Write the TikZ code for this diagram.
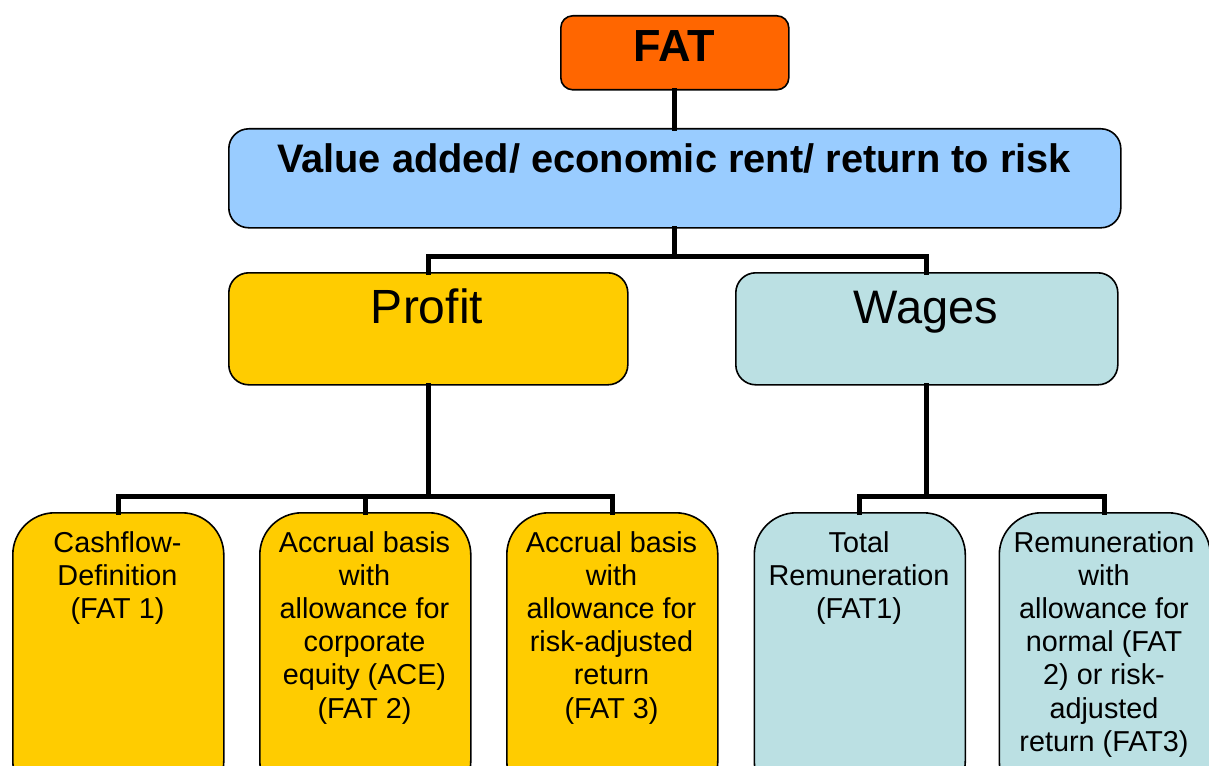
\documentclass[tikz,border=0pt]{standalone}
\usepackage{fontspec}
\setmainfont{Liberation Sans}
\definecolor{fatorange}{HTML}{FF6600}
\definecolor{valblue}{HTML}{99CCFF}
\definecolor{profgold}{HTML}{FFCC00}
\definecolor{wageteal}{HTML}{BBE0E3}
\begin{document}
\begin{tikzpicture}[x=1pt,y=-1pt,
  boxbase/.style={draw=black, line width=1.6pt, inner sep=0pt, anchor=north west},
  fatbox/.style={boxbase, fill=fatorange, rounded corners=12pt},
  valbox/.style={boxbase, fill=valblue, rounded corners=20pt},
  profbox/.style={boxbase, fill=profgold, rounded corners=20pt},
  wagebox/.style={boxbase, fill=wageteal, rounded corners=20pt},
  botprof/.style={boxbase, fill=profgold, rounded corners=42pt, minimum width=211pt, minimum height=290pt},
  botwage/.style={boxbase, fill=wageteal, rounded corners=42pt, minimum width=211pt, minimum height=290pt},
  bottxt/.style={inner sep=0pt, anchor=north, align=center, font=\fontsize{28.8}{33.2}\selectfont},
  conn/.style={draw=black, line width=5pt, line cap=rect}
]
\useasboundingbox (0,0) rectangle (1209,765);
\clip (0,0) rectangle (1209,765);

% boxes
\node[fatbox, minimum width=228pt, minimum height=74pt] (fat) at (560,15) {};
\node[valbox, minimum width=892pt, minimum height=99pt] (val) at (228,128) {};
\node[profbox, minimum width=399pt, minimum height=112pt] (prof) at (228,272) {};
\node[wagebox, minimum width=382pt, minimum height=112pt] (wage) at (735,272) {};
\node[botprof] (b1) at (12,512) {};
\node[botprof] (b2) at (259,512) {};
\node[botprof] (b3) at (506,512) {};
\node[botwage] (b4) at (753.5,512) {};
\node[botwage] (b5) at (998.5,512) {};

% connectors
\draw[conn] (fat.south) -- (val.north);
\draw[conn] (val.south) -- ++(0,28) -| (prof.north);
\draw[conn] (val.south) -- ++(0,28) -| (wage.north);
\draw[conn] (prof.south) -- ++(0,111) -| (b1.north);
\draw[conn] (prof.south) -- ++(0,111) -| (b2.north);
\draw[conn] (prof.south) -- ++(0,111) -| (b3.north);
\draw[conn] (wage.south) -- ++(0,111) -| (b4.north);
\draw[conn] (wage.south) -- ++(0,111) -| (b5.north);

% texts
\node[inner sep=0pt, anchor=base, font=\fontsize{45}{50}\selectfont\bfseries] (tfat) at (674,62) {FAT};
\node[inner sep=0pt, anchor=base, font=\fontsize{39.8}{45}\selectfont\bfseries] (tval) at (674,172) {Value added/ economic rent/ return to risk};
\node[inner sep=0pt, anchor=base, font=\fontsize{48}{54}\selectfont] (tprof) at (427,323) {Profit};
\node[inner sep=0pt, anchor=base, font=\fontsize{47}{54}\selectfont] (twage) at (926,323) {Wages};
\node[bottxt] (t1) at (117.5,531) {Cashflow-\\Definition\\(FAT 1)};
\node[bottxt] (t2) at (364.5,531) {Accrual basis\\with\\allowance for\\corporate\\equity (ACE)\\(FAT 2)};
\node[bottxt] (t3) at (611.5,531) {Accrual basis\\with\\allowance for\\risk-adjusted\\return\\(FAT 3)};
\node[bottxt] (t4) at (859,531) {Total\\Remuneration\\(FAT1)};
\node[bottxt] (t5) at (1104,531) {Remuneration\\with\\allowance for\\normal (FAT\\2) or risk-\\adjusted\\return (FAT3)};
\end{tikzpicture}
\end{document}
